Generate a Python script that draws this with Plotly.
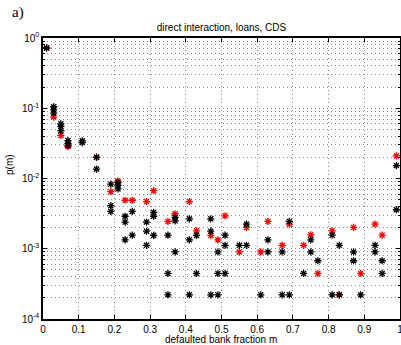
import plotly.graph_objects as go

# ---- data ----
black_m = [0.01,
           0.03, 0.03, 0.03,
           0.05, 0.05, 0.05,
           0.07, 0.07, 0.07,
           0.11, 0.11,
           0.15, 0.15,
           0.19, 0.19, 0.19,
           0.21, 0.21, 0.21,
           0.23, 0.23, 0.23,
           0.25, 0.25,
           0.29, 0.29, 0.29,
           0.31, 0.31, 0.31,
           0.35, 0.35, 0.35,
           0.37, 0.37, 0.37,
           0.41, 0.41, 0.41,
           0.43, 0.43,
           0.47, 0.47, 0.47,
           0.49, 0.49, 0.49,
           0.51, 0.51, 0.51,
           0.55,
           0.57, 0.57,
           0.61,
           0.63, 0.63,
           0.67, 0.67,
           0.69, 0.69,
           0.73,
           0.75, 0.75,
           0.77,
           0.81, 0.81,
           0.83, 0.83,
           0.87, 0.87,
           0.89,
           0.93, 0.93,
           0.95, 0.95,
           0.99, 0.99]
black_p = [0.72,
           0.105, 0.095, 0.085,
           0.060, 0.055, 0.048,
           0.0347, 0.0317, 0.0295,
           0.0344, 0.0325,
           0.0201, 0.0136,
           0.0083, 0.0041, 0.0034,
           0.0088, 0.0080, 0.0071,
           0.0029, 0.0024, 0.00134,
           0.0034, 0.00156,
           0.0024, 0.00178, 0.00112,
           0.0033, 0.0029, 0.00155,
           0.00156, 0.000445, 0.000221,
           0.00279, 0.0025, 0.0009,
           0.00267, 0.00134, 0.000221,
           0.00155, 0.000445,
           0.00267, 0.00178, 0.000221,
           0.0009, 0.000445, 0.000221,
           0.00156, 0.00112, 0.000445,
           0.00112,
           0.00224, 0.00112,
           0.000221,
           0.00134, 0.0009,
           0.0009, 0.000221,
           0.00245, 0.000221,
           0.000445,
           0.00134, 0.0009,
           0.000675,
           0.00156, 0.000221,
           0.00112, 0.000221,
           0.0009, 0.000675,
           0.000221,
           0.00112, 0.0009,
           0.000675, 0.000445,
           0.0153, 0.00359]

red_m = [0.01, 0.03, 0.05, 0.07, 0.15, 0.19, 0.21, 0.23, 0.25, 0.29, 0.31,
         0.35, 0.37, 0.41, 0.43, 0.47, 0.49, 0.51, 0.55, 0.57, 0.61, 0.63,
         0.67, 0.69, 0.73, 0.75, 0.77, 0.81, 0.83, 0.87, 0.89, 0.93, 0.95, 0.99]
red_p = [0.72, 0.075, 0.041, 0.0285, 0.020, 0.0065, 0.0092, 0.0049, 0.0049, 0.0047, 0.0067,
         0.00245, 0.00315, 0.0047, 0.0018, 0.00155, 0.00134, 0.00294, 0.0009, 0.00201, 0.0009, 0.00245,
         0.00112, 0.00224, 0.00112, 0.00158, 0.000445, 0.0018, 0.000221, 0.00201, 0.000445, 0.00224, 0.00156, 0.021]

x_ticks = [0, 0.1, 0.2, 0.3, 0.4, 0.5, 0.6, 0.7, 0.8, 0.9, 1]
x_ticklabels = ["0", "0.1", "0.2", "0.3", "0.4", "0.5", "0.6", "0.7", "0.8", "0.9", "1"]
y_ticks = [1e-4, 1e-3, 1e-2, 1e-1, 1]
y_ticklabels = ["10<sup>-4</sup>", "10<sup>-3</sup>", "10<sup>-2</sup>", "10<sup>-1</sup>", "10<sup>0</sup>"]
y_minor = [k * 10.0 ** e for e in range(-4, 0) for k in range(2, 10)]

FONT = "Liberation Sans, Arial, sans-serif"
L, R, T, B = 43, 1, 38, 26
PW, PH = 401 - L - R, 345 - T - B
GRID = "#8c8c8c"

fig = go.Figure()
fig.add_trace(go.Scatter(x=red_m, y=red_p, mode="markers",
                         marker=dict(symbol="asterisk-open", size=6, color="#ff0000",
                                     line=dict(color="#ff0000", width=1.3)),
                         showlegend=False, cliponaxis=False))
fig.add_trace(go.Scatter(x=black_m, y=black_p, mode="markers",
                         marker=dict(symbol="asterisk-open", size=6, color="#000000",
                                     line=dict(color="#000000", width=1.3)),
                         showlegend=False, cliponaxis=False))

grid_kw = dict(showgrid=True, gridcolor=GRID, gridwidth=1, griddash="1px,3px")

fig.update_xaxes(range=[0, 1], tickmode="array", tickvals=x_ticks, ticktext=x_ticklabels,
                 ticks="inside", ticklen=4, tickwidth=1, tickcolor="black",
                 showline=True, linecolor="black", linewidth=1.5, mirror="ticks",
                 zeroline=False, automargin=False, ticklabeloverflow="allow",
                 tickfont=dict(family=FONT, size=10, color="black"),
                 **grid_kw)
fig.update_yaxes(type="log", range=[-4, 0], tickmode="array", tickvals=y_ticks, ticktext=y_ticklabels,
                 ticks="inside", ticklen=4, tickwidth=1, tickcolor="black",
                 showline=True, linecolor="black", linewidth=1.5, mirror="ticks",
                 zeroline=False, automargin=False, ticklabeloverflow="allow",
                 tickfont=dict(family=FONT, size=10, color="black"),
                 minor=dict(tickmode="array", tickvals=y_minor, ticks="inside", ticklen=2,
                            tickcolor="black", showgrid=True, gridcolor=GRID,
                            griddash="1px,3px", gridwidth=1),
                 **grid_kw)

fig.update_layout(
    width=401, height=345,
    margin=dict(l=L, r=R, t=T, b=B, autoexpand=False),
    paper_bgcolor="white", plot_bgcolor="white",
    font=dict(family=FONT, size=10, color="black"),
    title=dict(text="direct interaction, loans, CDS", x=0.5, xref="paper",
               y=1 - 27 / 345, yref="container", yanchor="middle", xanchor="center",
               font=dict(family=FONT, size=10, color="black")),
    annotations=[
        dict(text="a)", xref="paper", yref="paper", x=(18 - L) / PW, y=1 + (T - 13) / PH,
             showarrow=False, xanchor="center", yanchor="middle",
             font=dict(family="Liberation Serif, Times New Roman, serif", size=15, color="black")),
        dict(text="p(m)", xref="paper", yref="paper", x=(9 - L) / PW, y=(345 - B - 165) / PH,
             showarrow=False, textangle=-90, xanchor="center", yanchor="middle",
             font=dict(family=FONT, size=10, color="black")),
        dict(text="defaulted bank fraction m", xref="paper", yref="paper",
             x=(220.5 - L) / PW, y=-(339 - (345 - B)) / PH,
             showarrow=False, xanchor="center", yanchor="middle",
             font=dict(family=FONT, size=10, color="black")),
    ],
)

fig.write_html("out.html", config={"displayModeBar": False},
               post_script="document.body.style.margin='0';document.body.style.padding='0';"
                           "document.body.style.overflow='hidden';")
